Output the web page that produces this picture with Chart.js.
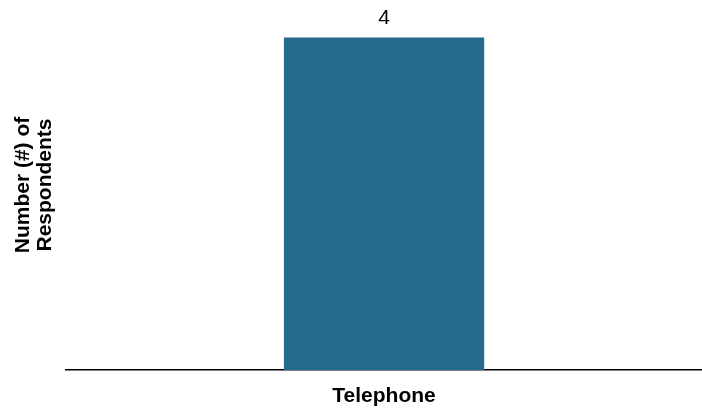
<!DOCTYPE html>
<html>
<head>
<meta charset="utf-8">
<script src="https://cdn.jsdelivr.net/npm/chart.js@4.4.1/dist/chart.umd.min.js"></script>
<style>
    html, body { margin: 0; padding: 0; background: #ffffff; }
    #wrap { width: 702px; height: 410px; position: relative; }
</style>
</head>
<body>
<div id="wrap"><canvas id="myChart"></canvas></div>
<script>
const categories = ['Telephone'];
const respondents = [4];
const yTitleLines = ['Number (#) of', 'Respondents'];

// writes the count above each bar
const valueLabels = {
    id: 'valueLabels',
    afterDatasetsDraw(chart) {
        const { ctx } = chart;
        const meta = chart.getDatasetMeta(0);
        ctx.save();
        ctx.font = '21px "Liberation Sans", Arial, sans-serif';
        ctx.fillStyle = '#000000';
        ctx.textAlign = 'center';
        ctx.textBaseline = 'bottom';
        meta.data.forEach((bar, i) => {
            ctx.fillText(String(respondents[i]), bar.x, bar.y - 9);
        });
        ctx.restore();
    }
};

document.addEventListener('DOMContentLoaded', () => {
    const ctx = document.getElementById('myChart').getContext('2d');

    new Chart(ctx, {
        type: 'bar',
        data: {
            labels: categories,
            datasets: [{
                data: respondents,
                backgroundColor: '#256a8b',
                borderWidth: 0,
                barPercentage: 0.315,
                categoryPercentage: 1
            }]
        },
        options: {
            responsive: true,
            maintainAspectRatio: false,
            animation: false,
            layout: { padding: { top: 0, right: 0, bottom: 0, left: 12 } },
            plugins: {
                legend: { display: false },
                tooltip: { enabled: false }
            },
            scales: {
                x: {
                    grid: { display: false, drawTicks: false },
                    border: { display: true, color: '#000000', width: 1.5 },
                    afterFit: (scale) => { scale.height = 40; },
                    ticks: {
                        color: '#000000',
                        padding: 14,
                        font: { family: '"Liberation Sans", Arial, sans-serif', size: 21, weight: 'bold' }
                    }
                },
                y: {
                    min: 0,
                    max: 4.45,
                    grid: { display: false, drawTicks: false },
                    border: { display: false },
                    ticks: { display: false },
                    title: {
                        display: true,
                        text: yTitleLines,
                        color: '#000000',
                        padding: { top: 0, bottom: 10 },
                        font: { family: '"Liberation Sans", Arial, sans-serif', size: 21, weight: 'bold', lineHeight: 1.05 }
                    }
                }
            }
        },
        plugins: [valueLabels]
    });
});
</script>
</body>
</html>
